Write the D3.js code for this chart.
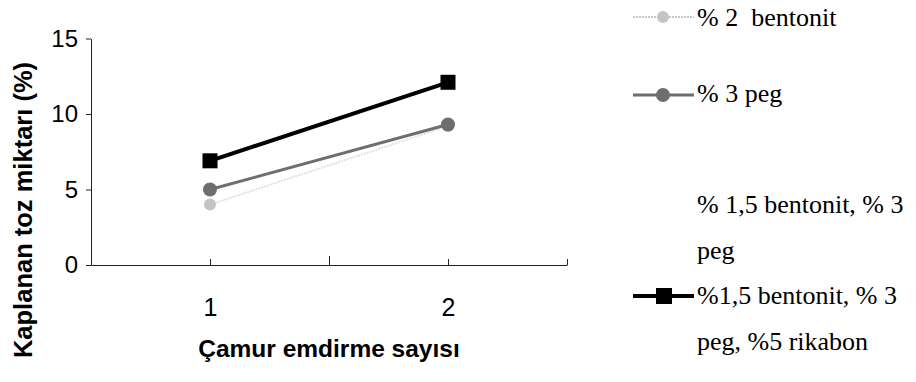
<!DOCTYPE html>
<html>
<head>
<meta charset="utf-8">
<script src="https://cdn.jsdelivr.net/npm/d3@7"></script>
<style>
  html, body { margin: 0; padding: 0; background: #fff; }
  svg { display: block; }
</style>
</head>
<body>
<svg id="chart" width="916" height="382"></svg>
<script>
// ---- data ----
const categories = [1, 2];
const bentonit2 = [4.0, 9.2];          // % 2 bentonit (light grey)
const peg3 = [5.0, 9.3];               // % 3 peg (grey circles)
const bentonitPeg = [];                // % 1,5 bentonit, % 3 peg (not visible)
const rikabon = [6.9, 12.1];           // %1,5 bentonit, % 3 peg, %5 rikabon (black squares)
const yTicks = [0, 5, 10, 15];
const xTicks = [1, 1.5, 2, 2.5];
const legendLabels = [
  ["% 2  bentonit"],
  ["% 3 peg"],
  ["% 1,5 bentonit, % 3", "peg"],
  ["%1,5 bentonit, % 3", "peg, %5 rikabon"]
];
const yTitle = "Kaplanan toz miktarı (%)";
const xTitle = "Çamur emdirme sayısı";

// ---- layout ----
const svg = d3.select("#chart");
svg.append("rect").attr("width", 916).attr("height", 382).attr("fill", "#fff");

const x = d3.scaleLinear().domain([0.5, 2.5]).range([91, 567]);
const y = d3.scaleLinear().domain([0, 15]).range([265, 38.5]);

const sansFont = "'Liberation Sans', Arial, sans-serif";
const serifFont = "'Liberation Serif', 'Times New Roman', serif";

// y axis
const yAxis = svg.append("g")
  .attr("transform", `translate(${x(0.5)},0)`)
  .call(d3.axisLeft(y).tickValues(yTicks).tickSize(5).tickSizeOuter(0).tickPadding(8));
yAxis.selectAll("text").attr("font-family", sansFont).attr("font-size", 24).attr("fill", "#000");
yAxis.selectAll("line, path").attr("stroke", "#222");

// x axis
const xAxis = svg.append("g")
  .attr("transform", `translate(0,${y(0)})`)
  .call(d3.axisBottom(x).tickValues(xTicks).tickSize(-6).tickSizeOuter(0).tickPadding(33)
    .tickFormat(d => Number.isInteger(d) ? d : ""));
xAxis.selectAll("text").attr("font-family", sansFont).attr("font-size", 25).attr("fill", "#000");
xAxis.selectAll("line, path").attr("stroke", "#222");
xAxis.selectAll(".tick").filter(d => d === 1.5).select("line").attr("y2", -9);

// axis titles
svg.append("text")
  .attr("x", x(1.5)).attr("y", 357)
  .attr("text-anchor", "middle")
  .attr("font-family", sansFont).attr("font-weight", "bold").attr("font-size", 24.5)
  .text(xTitle);
svg.append("text")
  .attr("transform", `translate(32,210) rotate(-90)`)
  .attr("text-anchor", "middle")
  .attr("font-family", sansFont).attr("font-weight", "bold").attr("font-size", 25.5)
  .text(yTitle);

// series
const series = [
  { values: bentonit2, stroke: "#e2e2e2", width: 2, dash: "2,1", marker: "circle", fill: "#c4c4c4", size: 6 },
  { values: peg3, stroke: "#6e6e6e", width: 3, dash: null, marker: "circle", fill: "#6e6e6e", size: 7 },
  { values: bentonitPeg, stroke: "none", width: 0, dash: null, marker: null, fill: "none", size: 0 },
  { values: rikabon, stroke: "#000", width: 4, dash: null, marker: "square", fill: "#000", size: 15 }
];

const line = d3.line().x((d, i) => x(categories[i])).y(d => y(d));

series.forEach(s => {
  if (!s.values.length) return;
  svg.append("path")
    .attr("d", line(s.values))
    .attr("fill", "none")
    .attr("stroke", s.stroke)
    .attr("stroke-width", s.width)
    .attr("stroke-dasharray", s.dash);
  s.values.forEach((v, i) => {
    if (s.marker === "circle") {
      svg.append("circle").attr("cx", x(categories[i])).attr("cy", y(v)).attr("r", s.size).attr("fill", s.fill);
    } else if (s.marker === "square") {
      svg.append("rect")
        .attr("x", x(categories[i]) - s.size / 2).attr("y", y(v) - s.size / 2)
        .attr("width", s.size).attr("height", s.size).attr("fill", s.fill);
    }
  });
});

// legend
const legendRows = [17, 95, 205, 296];   // symbol centre y
const baselines = [[26], [102], [213, 259], [304, 350]];
series.forEach((s, i) => {
  const cy = legendRows[i];
  if (s.stroke !== "none") {
    svg.append("line")
      .attr("x1", 633).attr("x2", 694).attr("y1", cy).attr("y2", cy)
      .attr("stroke", i === 0 ? "#c8c8c8" : s.stroke).attr("stroke-width", s.width).attr("stroke-dasharray", s.dash);
  }
  if (s.marker === "circle") {
    svg.append("circle").attr("cx", 663).attr("cy", cy).attr("r", s.size).attr("fill", s.fill);
  } else if (s.marker === "square") {
    svg.append("rect").attr("x", 656).attr("y", cy - 8).attr("width", 16).attr("height", 16).attr("fill", s.fill);
  }
  legendLabels[i].forEach((t, j) => {
    svg.append("text")
      .attr("x", 697).attr("y", baselines[i][j])
      .attr("font-family", serifFont).attr("font-size", 26)
      .style("white-space", "pre")
      .text(t);
  });
});
</script>
</body>
</html>
